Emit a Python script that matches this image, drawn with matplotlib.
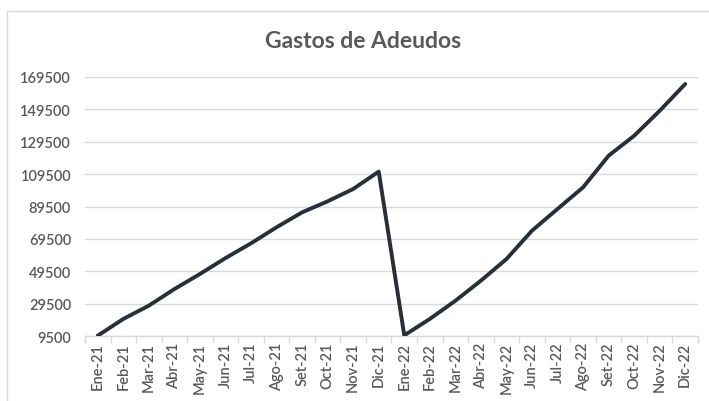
import matplotlib
matplotlib.use("Agg")
import matplotlib.pyplot as plt
import numpy as np
from matplotlib.patches import Rectangle

months = ["Ene-21", "Feb-21", "Mar-21", "Abr-21", "May-21", "Jun-21", "Jul-21", "Ago-21",
          "Set-21", "Oct-21", "Nov-21", "Dic-21", "Ene-22", "Feb-22", "Mar-22", "Abr-22",
          "May-22", "Jun-22", "Jul-22", "Ago-22", "Set-22", "Oct-22", "Nov-22", "Dic-22"]
gastos = [9900, 20200, 28400, 38600, 47900, 57700, 66800, 76700,
          85900, 92700, 100300, 111000, 10100, 20200, 31400, 43800,
          57100, 74600, 88000, 101300, 120800, 133100, 148500, 165000]
yticks = [9500, 29500, 49500, 69500, 89500, 109500, 129500, 149500, 169500]

plt.rcParams['font.family'] = ['Lato', 'DejaVu Sans']
fig = plt.figure(figsize=(7.09, 4.02), dpi=100)
fig.patch.set_facecolor("white")
fig.patches.append(Rectangle((7/709, -0.05), 1.1, 1 - 12/402 + 0.05, transform=fig.transFigure,
                             fill=False, edgecolor="#d9d9d9", linewidth=1.0))
ax = fig.add_axes([85/709, 1 - 337.3/402, (698 - 85)/709, (337.3 - 77.7)/402])

x = np.arange(len(months))
ax.plot(x, gastos, color="#262f3a", linewidth=2.8, solid_joinstyle="round", solid_capstyle="round", zorder=3)

ax.set_xlim(-0.5, len(months) - 0.5)
ax.set_ylim(yticks[0], yticks[-1])
ax.set_yticks(yticks)
ax.set_yticklabels([str(v) for v in yticks], fontsize=10.5, color="#595959", fontweight="semibold")
ax.tick_params(axis="y", length=0, pad=10)
ax.grid(axis="y", color="#d9d9d9", linewidth=1.0)
ax.set_axisbelow(True)

ax.set_xticks(np.arange(-0.5, len(months), 1.0))
ax.set_xticklabels([])
ax.tick_params(axis="x", which="major", length=5, color="#d9d9d9", width=1)
ax.set_xticks(x, minor=True)
ax.set_xticklabels(months, minor=True, rotation=90, fontsize=10.5, color="#595959", fontweight="semibold")
ax.tick_params(axis="x", which="minor", length=0, pad=4)

for s in ["top", "right", "left"]:
    ax.spines[s].set_visible(False)
ax.spines["bottom"].set_color("#d9d9d9")
ax.spines["bottom"].set_linewidth(1.0)

fig.text(363/709, 1 - 42/402, "Gastos de Adeudos", ha="center", va="center",
         fontsize=16.5, fontweight="bold", color="#595959")

fig.savefig("out.png", dpi=100)
